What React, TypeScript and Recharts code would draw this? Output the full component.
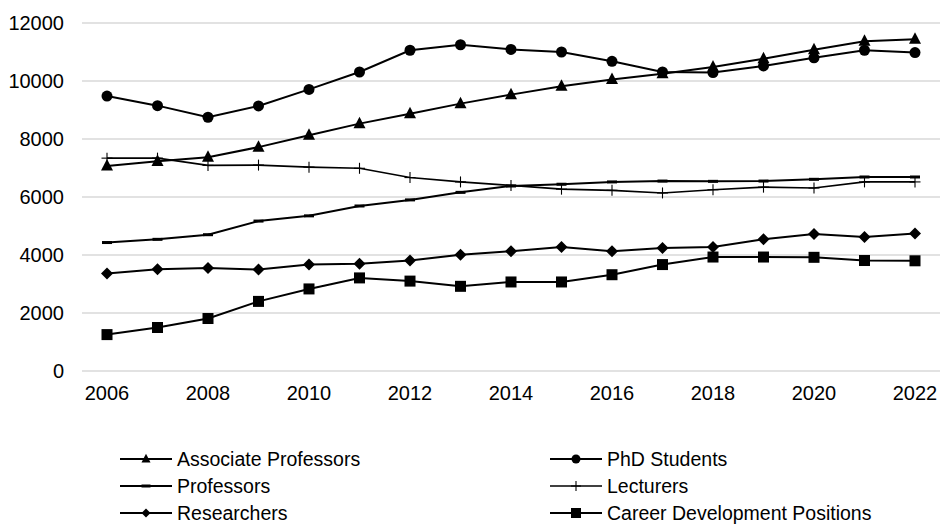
import React from "react";
import { LineChart, Line, XAxis, YAxis, CartesianGrid, Legend } from "recharts";

const years = ["2006","2007","2008","2009","2010","2011","2012","2013","2014","2015","2016","2017","2018","2019","2020","2021","2022"];
const associateProfessors = [7070, 7230, 7370, 7720, 8130, 8530, 8870, 9220, 9530, 9820, 10050, 10250, 10480, 10770, 11080, 11370, 11440];
const phdStudents = [9480, 9150, 8750, 9140, 9710, 10310, 11060, 11250, 11090, 11000, 10680, 10310, 10290, 10520, 10800, 11060, 10980];
const professors = [4430, 4540, 4700, 5170, 5350, 5690, 5900, 6160, 6380, 6440, 6520, 6550, 6540, 6550, 6610, 6690, 6690];
const lecturers = [7340, 7340, 7090, 7100, 7030, 6990, 6670, 6520, 6400, 6270, 6230, 6140, 6250, 6340, 6310, 6520, 6520];
const researchers = [3360, 3510, 3550, 3500, 3670, 3700, 3810, 4010, 4130, 4280, 4130, 4240, 4280, 4540, 4720, 4620, 4740];
const careerDevelopment = [1255, 1500, 1810, 2400, 2830, 3210, 3100, 2920, 3070, 3070, 3320, 3670, 3930, 3930, 3920, 3810, 3800];
const yTicks = [0, 2000, 4000, 6000, 8000, 10000, 12000];

const seriesNames = {
  assoc: "Associate Professors",
  phd: "PhD Students",
  prof: "Professors",
  lect: "Lecturers",
  res: "Researchers",
  career: "Career Development Positions",
};

const data = years.map((y, i) => ({
  year: y,
  assoc: associateProfessors[i],
  phd: phdStudents[i],
  prof: professors[i],
  lect: lecturers[i],
  res: researchers[i],
  career: careerDevelopment[i],
}));

const FONT = "'Liberation Sans', Arial, sans-serif";

type Shape = "triangle" | "circle" | "dash" | "plus" | "diamond" | "square";

function Marker({ shape, cx, cy, s }: { shape: Shape; cx: number; cy: number; s: number }) {
  switch (shape) {
    case "triangle":
      return <polygon points={`${cx},${cy - s * 0.58} ${cx - s / 2},${cy + s * 0.38} ${cx + s / 2},${cy + s * 0.38}`} fill="#000" />;
    case "circle":
      return <circle cx={cx} cy={cy} r={s / 2} fill="#000" />;
    case "dash":
      return <rect x={cx - s / 2} y={cy - 1.5} width={s} height={3} fill="#000" />;
    case "plus":
      return (
        <g stroke="#000" strokeWidth={1.1}>
          <line x1={cx - s / 2} y1={cy} x2={cx + s / 2} y2={cy} />
          <line x1={cx} y1={cy - s / 2} x2={cx} y2={cy + s / 2} />
        </g>
      );
    case "diamond":
      return <polygon points={`${cx},${cy - s / 2} ${cx + s / 2},${cy} ${cx},${cy + s / 2} ${cx - s / 2},${cy}`} fill="#000" />;
    case "square":
      return <rect x={cx - s / 2} y={cy - s / 2} width={s} height={s} fill="#000" />;
  }
  return null;
}

const makeDot = (shape: Shape, s: number) => (props: any) => {
  const { cx, cy, index } = props;
  if (cx == null || cy == null) return <g key={index} />;
  return <g key={`${shape}-${index}`}><Marker shape={shape} cx={cx} cy={cy} s={s} /></g>;
};

const legendItems: { key: keyof typeof seriesNames; shape: Shape; s: number; col: number; row: number }[] = [
  { key: "assoc", shape: "triangle", s: 9, col: 0, row: 0 },
  { key: "phd", shape: "circle", s: 9, col: 1, row: 0 },
  { key: "prof", shape: "dash", s: 9, col: 0, row: 1 },
  { key: "lect", shape: "plus", s: 10, col: 1, row: 1 },
  { key: "res", shape: "diamond", s: 9, col: 0, row: 2 },
  { key: "career", shape: "square", s: 10, col: 1, row: 2 },
];

function LegendContent() {
  const colX = [120, 550];
  const rowY = [15, 42, 69];
  return (
    <svg width={940} height={80} style={{ display: "block" }}>
      {legendItems.map((it) => {
        const x = colX[it.col];
        const y = rowY[it.row];
        const lw = it.shape === "plus" ? 1.4 : 2;
        return (
          <g key={it.key}>
            <line x1={x} y1={y} x2={x + 52} y2={y} stroke="#000" strokeWidth={lw} />
            <Marker shape={it.shape} cx={x + 26} cy={y} s={it.s} />
            <text x={x + 57} y={y} dy="0.35em" fontFamily={FONT} fontSize={19.5} fill="#000">
              {seriesNames[it.key]}
            </text>
          </g>
        );
      })}
    </svg>
  );
}

export default function App() {
  return (
    <div style={{ position: "absolute", left: 0, top: 0, width: 940, height: 524, background: "#fff" }}>
      <LineChart width={940} height={524} data={data} margin={{ top: 23, right: 0, left: 0, bottom: 43 }}>
        <CartesianGrid vertical={false} stroke="#d9d9d9" strokeWidth={1.5} />
        <XAxis
          dataKey="year"
          axisLine={false}
          tickLine={false}
          tickMargin={9}
          height={30}
          interval={1}
          padding={{ left: 25, right: 25 }}
          tick={{ fill: "#000", fontSize: 20, fontFamily: FONT }}
        />
        <YAxis
          domain={[0, 12000]}
          ticks={yTicks}
          width={82}
          axisLine={false}
          tickLine={false}
          tickMargin={12}
          tick={{ fill: "#000", fontSize: 20, fontFamily: FONT }}
        />
        <Legend
          verticalAlign="bottom"
          content={() => <LegendContent />}
          wrapperStyle={{ top: 444, left: 0, bottom: "auto", width: 940, height: 80 }}
        />
        <Line type="linear" dataKey="assoc" name={seriesNames.assoc} stroke="#000" strokeWidth={2} dot={makeDot("triangle", 12)} isAnimationActive={false} />
        <Line type="linear" dataKey="phd" name={seriesNames.phd} stroke="#000" strokeWidth={2} dot={makeDot("circle", 11)} isAnimationActive={false} />
        <Line type="linear" dataKey="prof" name={seriesNames.prof} stroke="#000" strokeWidth={2} dot={makeDot("dash", 10)} isAnimationActive={false} />
        <Line type="linear" dataKey="lect" name={seriesNames.lect} stroke="#000" strokeWidth={1.6} dot={makeDot("plus", 11)} isAnimationActive={false} />
        <Line type="linear" dataKey="res" name={seriesNames.res} stroke="#000" strokeWidth={2} dot={makeDot("diamond", 12)} isAnimationActive={false} />
        <Line type="linear" dataKey="career" name={seriesNames.career} stroke="#000" strokeWidth={2} dot={makeDot("square", 11)} isAnimationActive={false} />
      </LineChart>
    </div>
  );
}
